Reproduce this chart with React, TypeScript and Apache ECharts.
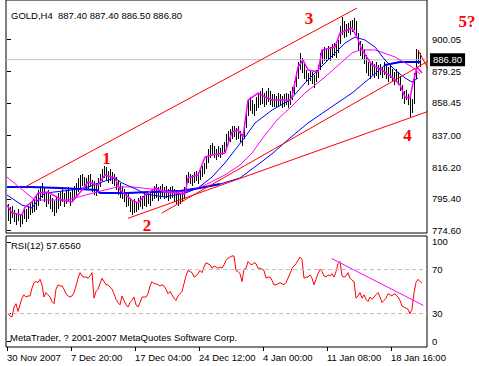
import React, { useEffect, useRef } from "react";
import * as echarts from "echarts";

// ---- axis texts ----
const timeLabels = ["30 Nov 2007", "7 Dec 20:00", "17 Dec 04:00", "24 Dec 12:00", "4 Jan 00:00", "11 Jan 08:00", "18 Jan 16:00"];
const timeTickPos = [0, 32, 64, 96, 128, 160, 192];
const priceTicks = [900.05, 879.25, 858.45, 837.0, 816.2, 795.4, 774.6];
const rsiTickPos = [94.8, 70, 30, 5.2];
const rsiTickText = ["100", "70", "30", "0"];
const lastPrice = 886.8;

// ---- H4 bars (low / high) ----
const barLow = [
  781, 779, 783, 780, 778, 781, 777, 779, 782, 780,
  782, 785, 786, 787, 788, 791, 794, 796, 793, 790,
  792, 789, 787, 784, 786, 789, 791, 793, 790, 792,
  794, 791, 793, 795, 797, 800, 802, 804, 803, 801,
  802, 803, 800, 798, 797, 799, 803, 807, 809, 808,
  806, 807, 805, 804, 801, 798, 796, 795, 793, 790,
  791, 787, 785, 786, 787, 788, 790, 789, 791, 790,
  792, 791, 794, 795, 796, 794, 795, 797, 795, 796,
  794, 795, 796, 793, 792, 791, 792, 793, 795, 800,
  806, 805, 804, 806, 807, 805, 808, 810, 812, 815,
  819, 822, 824, 822, 821, 823, 822, 824, 826, 829,
  832, 833, 835, 836, 834, 835, 833, 830, 835, 842,
  850, 853, 851, 850, 853, 855, 857, 858, 856, 857,
  859, 857, 856, 856, 855, 856, 857, 855, 856, 857,
  855, 857, 860, 864, 869, 874, 880, 878, 874, 872,
  870, 873, 871, 868, 872, 875, 880, 884, 886, 885,
  887, 886, 888, 889, 888, 891, 897, 903, 901, 902,
  904, 903, 905, 906, 902, 893, 889, 887, 884, 878,
  876, 874, 877, 875, 876, 874, 877, 875, 877, 874,
  872, 875, 873, 870, 872, 870, 866, 861, 858, 860,
  857, 849, 852, 858, 874, 884, 882, 886.5,
];
const barHigh = [
  792, 790, 791, 788, 786, 789, 785, 787, 790, 789,
  791, 793, 794, 795, 797, 801, 804, 806, 803, 800,
  801, 798, 796, 794, 797, 799, 800, 802, 799, 801,
  803, 800, 801, 804, 806, 809, 811, 812, 810, 809,
  811, 812, 808, 807, 806, 809, 812, 815, 817, 816,
  814, 815, 813, 812, 810, 808, 806, 804, 802, 800,
  799, 796, 794, 795, 793, 796, 797, 797, 799, 798,
  800, 800, 802, 804, 805, 803, 804, 805, 803, 804,
  802, 803, 804, 802, 801, 800, 799, 801, 803, 811,
  813, 812, 811, 813, 814, 813, 815, 817, 819, 823,
  828, 831, 832, 830, 828, 830, 829, 831, 833, 838,
  840, 841, 843, 843, 842, 843, 840, 838, 846, 854,
  860, 862, 860, 858, 862, 864, 866, 868, 865, 866,
  868, 866, 864, 864, 863, 865, 864, 863, 864, 865,
  864, 866, 869, 873, 879, 885, 891, 888, 884, 880,
  878, 880, 879, 877, 880, 883, 891, 894, 895, 894,
  896, 895, 897, 898, 897, 900, 909, 915, 912, 910,
  911, 912, 913, 914, 912, 904, 899, 897, 894, 890,
  885, 884, 886, 884, 885, 883, 884, 882, 885, 883,
  882, 884, 881, 879, 881, 879, 876, 870, 866, 867,
  864, 862, 861, 878, 894, 893, 891, 887.4,
];

// ---- moving averages: [bar position, price] ----
const maFastMagenta = [
  [0, 791.3], [2.5, 786.1], [7.5, 784.8], [9, 790.0], [12.5, 793.3], [15.5, 799.2], [20.5, 799.9],
  [27.5, 794.6], [32.5, 793.3], [37.5, 801.2], [40.5, 806.5], [45.5, 804.5], [49, 811.1], [54, 809.1],
  [56.5, 801.2], [62.5, 794.6], [65.5, 792.7], [69, 797.9], [74, 802.5], [79, 799.9], [84, 799.2],
  [89, 798.6], [90.5, 809.1], [95.5, 811.1], [99, 822.9], [102.5, 824.2], [109, 825.5], [112.5, 839.3],
  [115.5, 840.6], [118, 836.0], [120.5, 860.3], [125.5, 864.9], [129, 862.3], [132.5, 860.3],
  [141.5, 860.3], [142.5, 862.3], [145.5, 882.0], [148, 886.6], [150.5, 880.0], [155.5, 878.7],
  [157.5, 893.2], [164, 895.1], [166.5, 904.3], [172.5, 907.6], [175, 901.7], [177.5, 893.2],
  [182.5, 883.3], [187.5, 880.0], [192.5, 875.4], [196.5, 870.2], [199, 862.3], [201.5, 861.6],
  [203, 871.5], [205, 882.0], [207.5, 878.0],
];
const maFastBlue = [
  [0, 797.9], [7.5, 791.3], [12.5, 789.4], [15.5, 794.6], [19, 799.2], [32.5, 801.2], [40.5, 803.2],
  [49, 807.1], [54, 809.1], [57.5, 805.8], [65.5, 801.2], [69, 798.6], [79, 796.6], [89, 799.2],
  [95.5, 802.5], [102.5, 809.7], [109, 819.0], [114, 827.5], [119, 836.0], [124, 845.2], [132.5, 853.7],
  [141.5, 860.3], [149, 871.5], [159, 884.6], [169, 897.7], [174, 901.7], [179, 899.7], [184, 895.1],
  [189, 886.6], [194, 880.0], [199, 874.8], [202.5, 872.1], [205.5, 874.8],
];
const maSlowMagenta = [
  [0, 809.7], [9, 799.9], [14, 794.6], [30, 794.6], [45, 799.9], [55, 803.2], [63, 803.2],
  [71.5, 801.9], [83, 799.9], [90.5, 799.9], [99, 804.5], [109, 811.1], [116.5, 817.6],
  [122.5, 825.5], [129, 837.3], [135, 847.2], [141.5, 855.1], [149, 864.9], [159, 875.4],
  [172.5, 891.2], [176.5, 893.2], [184, 893.2], [194, 888.6], [202.5, 882.0], [206.5, 877.4],
];
const maSlowBlue = [
  [0, 803.2], [11.5, 803.2], [26.5, 802.5], [45, 801.2], [46.5, 799.2], [60, 799.2], [71.5, 799.9],
  [86.5, 800.5], [96.5, 802.5], [106.5, 805.1], [116.5, 809.1], [126.5, 818.9], [133, 825.5],
  [141.5, 835.4], [150.5, 845.2], [161.5, 855.1], [172.5, 864.9], [181.5, 874.8], [189, 883.3],
  [196.5, 885.3], [206.5, 885.3],
];
const maSlowBlueBoldLeft = [
  [0, 803.2], [11.5, 803.2], [26.5, 802.5], [45, 801.2], [46.5, 799.2], [60, 799.2], [71.5, 799.9],
  [86.5, 800.5], [96.5, 802.5], [106.5, 805.1],
];
const maSlowBlueBoldRight = [[189, 883.3], [196.5, 885.3], [206.5, 885.3]];

// ---- hand-drawn trend lines ----
const trendUpper = [[9, 803.2], [175, 920.7]];
const trendLower = [[60.5, 782.6], [226.5, 860.3]];
const trendMid = [[77.35, 786.0], [215, 889.2]];
const waveZigzag = [[205.5, 893.2], [212.5, 876.1], [221.5, 922.7]];
const waveArrow = [[218.5, 918.1], [221.5, 922.7], [222, 917.5]];

// ---- RSI(12) ----
const rsiValues = [
  30, 28, 27, 36, 39, 32, 38, 44, 47, 45,
  46, 46, 53, 58, 59, 58, 61, 56, 45, 49,
  47, 45, 41, 39, 52, 56, 55, 55, 52, 48,
  46, 45, 46, 49, 55, 62, 67, 64, 63, 63,
  62, 64, 67, 44, 50, 52, 57, 62, 59, 56,
  56, 54, 52, 48, 43, 40, 38, 46, 42, 38,
  36, 40, 42, 45, 38, 36, 40, 45, 45, 45,
  48, 55, 59, 57, 57, 56, 55, 56, 55, 52,
  48, 50, 47, 44, 42, 46, 48, 50, 57, 64,
  69, 68, 67, 63, 64, 66, 69, 67, 72, 76,
  75, 74, 71, 73, 72, 71, 72, 71, 74, 78,
  80, 81, 82, 82, 69, 68, 66, 59, 70, 71,
  77, 75, 74, 76, 75, 71, 71, 70, 69, 62,
  63, 63, 60, 56, 56, 57, 58, 57, 56, 58,
  62, 66, 71, 73, 75, 78, 81, 79, 62, 63,
  63, 65, 62, 56, 61, 66, 70, 68, 64, 63,
  65, 64, 66, 63, 68, 75, 77, 64, 63, 64,
  67, 62, 60, 59, 44, 46, 49, 44, 47, 43,
  41, 45, 43, 45, 47, 49, 45, 40, 42, 44,
  48, 47, 46, 48, 47, 45, 42, 37, 36, 35,
  34, 30, 34, 49, 58, 61, 59, 57.656,
];
const rsiTrend = [[162.35, 79.7], [208.15, 37.5]];
const rsiLevels = [70, 30];

const FONT = "'Liberation Sans', Arial, sans-serif";
const SERIF = "'Liberation Serif', 'Times New Roman', serif";

export default function App() {
  const ref = useRef<HTMLDivElement>(null);
  useEffect(() => {
    document.body.style.margin = "0";
    if (!ref.current) return;
    const chart = echarts.init(ref.current, undefined, { renderer: "svg" });

    const bars = barLow.map((lo, i) => [i + 0.5, lo, barHigh[i]]);
    const rsiData = rsiValues.map((v, i) => [i + 0.5, v]);

    const line = (data: number[][], color: string, width: number, extra: any = {}) => ({
      type: "line",
      data,
      xAxisIndex: 0,
      yAxisIndex: 0,
      symbol: "none",
      silent: true,
      lineStyle: { color, width },
      ...extra,
    });

    const label = (text: string, x: number, y: number) => ({
      type: "text",
      x,
      y,
      silent: true,
      style: {
        text,
        fill: "#FF0000",
        font: `bold 17px ${SERIF}`,
        align: "center",
        verticalAlign: "middle",
        textAlign: "center",
        textVerticalAlign: "middle",
      },
    });
    const plain = (text: string, x: number, y: number) => ({
      type: "text",
      x,
      y,
      silent: true,
      style: {
        text,
        fill: "#000",
        font: `9.5px ${FONT}`,
        align: "left",
        verticalAlign: "middle",
        textAlign: "left",
        textVerticalAlign: "middle",
      },
    });

    chart.setOption({
      animation: false,
      backgroundColor: "#fff",
      grid: [
        { left: 6, top: 0, width: 421, height: 233, show: true, borderColor: "#000", borderWidth: 1, backgroundColor: "transparent" },
        { left: 6, top: 236, width: 421, height: 111, show: true, borderColor: "#000", borderWidth: 1, backgroundColor: "transparent" },
      ],
      xAxis: [
        { type: "value", gridIndex: 0, min: -0.5, max: 210, show: false },
        {
          type: "value",
          gridIndex: 1,
          min: -0.5,
          max: 210,
          axisLine: { show: false },
          splitLine: { show: false },
          axisTick: { show: true, customValues: timeTickPos, length: 4, lineStyle: { color: "#000" } },
          axisLabel: {
            customValues: timeTickPos,
            formatter: (v: number) => timeLabels[timeTickPos.indexOf(Math.round(v))] ?? "",
            align: "left",
            margin: 5,
            color: "#000",
            fontSize: 9.5,
            fontFamily: FONT,
          },
        },
      ],
      yAxis: [
        {
          type: "value",
          gridIndex: 0,
          position: "right",
          min: 772.96,
          max: 926.0,
          axisLine: { show: false },
          splitLine: { show: false },
          axisTick: { show: true, customValues: priceTicks, length: 4, lineStyle: { color: "#000" } },
          axisLabel: {
            customValues: priceTicks,
            formatter: (v: number) => v.toFixed(2),
            margin: 5,
            color: "#000",
            fontSize: 9.5,
            fontFamily: FONT,
          },
        },
        {
          type: "value",
          gridIndex: 1,
          position: "right",
          min: 0,
          max: 100,
          axisLine: { show: false },
          splitLine: { show: false },
          axisTick: { show: true, customValues: rsiTickPos, length: 4, lineStyle: { color: "#000" } },
          axisLabel: {
            customValues: rsiTickPos,
            formatter: (v: number) => {
              const k = rsiTickPos.findIndex((p) => Math.abs(p - v) < 0.01);
              return k >= 0 ? rsiTickText[k] : "";
            },
            margin: 5,
            color: "#000",
            fontSize: 9.5,
            fontFamily: FONT,
          },
        },
      ],
      series: [
        line([[-0.5, lastPrice], [210, lastPrice]], "#C0C0C0", 1, {
          endLabel: {
            show: true,
            formatter: () => lastPrice.toFixed(2),
            color: "#fff",
            backgroundColor: "#000",
            padding: [2, 3, 1, 3],
            distance: 3,
            fontSize: 9.5,
            fontFamily: FONT,
          },
        }),
        {
          type: "custom",
          xAxisIndex: 0,
          yAxisIndex: 0,
          silent: true,
          data: bars,
          encode: { x: 0, y: [1, 2] },
          renderItem: (_p: any, api: any) => {
            const a = api.coord([api.value(0), api.value(1)]);
            const b = api.coord([api.value(0), api.value(2)]);
            const x = Math.floor(a[0]) + 0.5;
            return {
              type: "line",
              shape: { x1: x, y1: Math.round(a[1]), x2: x, y2: Math.round(b[1]) },
              style: { stroke: "#000", lineWidth: 1 },
            };
          },
        },
        line(maSlowBlue, "#0000FF", 1),
        line(maSlowBlueBoldLeft, "#0000FF", 2),
        line(maSlowBlueBoldRight, "#0000FF", 2),
        line(maSlowMagenta, "#FF00FF", 1),
        line(maFastBlue, "#0000FF", 1),
        line(maFastMagenta, "#FF00FF", 1.5),
        line(trendUpper, "#FF0000", 1, { clip: false }),
        line(trendLower, "#FF0000", 1, { clip: false }),
        line(trendMid, "#FF0000", 1, { clip: false }),
        line(waveZigzag, "#FF0000", 1, { clip: false }),
        line(waveArrow, "#FF0000", 1, { clip: false }),
        {
          type: "line",
          xAxisIndex: 1,
          yAxisIndex: 1,
          data: rsiData,
          symbol: "none",
          silent: true,
          lineStyle: { color: "#FF0000", width: 1 },
          markLine: {
            silent: true,
            symbol: ["none", "none"],
            label: { show: false },
            lineStyle: { color: "#C0C0C0", type: [4, 3], width: 1 },
            data: rsiLevels.map((v) => ({ yAxis: v })),
          },
        },
        {
          type: "line",
          xAxisIndex: 1,
          yAxisIndex: 1,
          data: rsiTrend,
          symbol: "none",
          silent: true,
          lineStyle: { color: "#FF00FF", width: 1 },
        },
      ],
      graphic: [
        plain("GOLD,H4  887.40 887.40 886.50 886.80", 11, 15.5),
        plain("RSI(12) 57.6560", 11, 245),
        plain("MetaTrader, ? 2001-2007 MetaQuotes Software Corp.", 10, 337),
        label("1", 106.5, 158),
        label("2", 147, 225),
        label("3", 309, 18),
        label("4", 407.5, 135),
        label("5?", 467, 21),
      ],
    });
    return () => chart.dispose();
  }, []);
  return <div ref={ref} style={{ width: 479, height: 366 }} />;
}
